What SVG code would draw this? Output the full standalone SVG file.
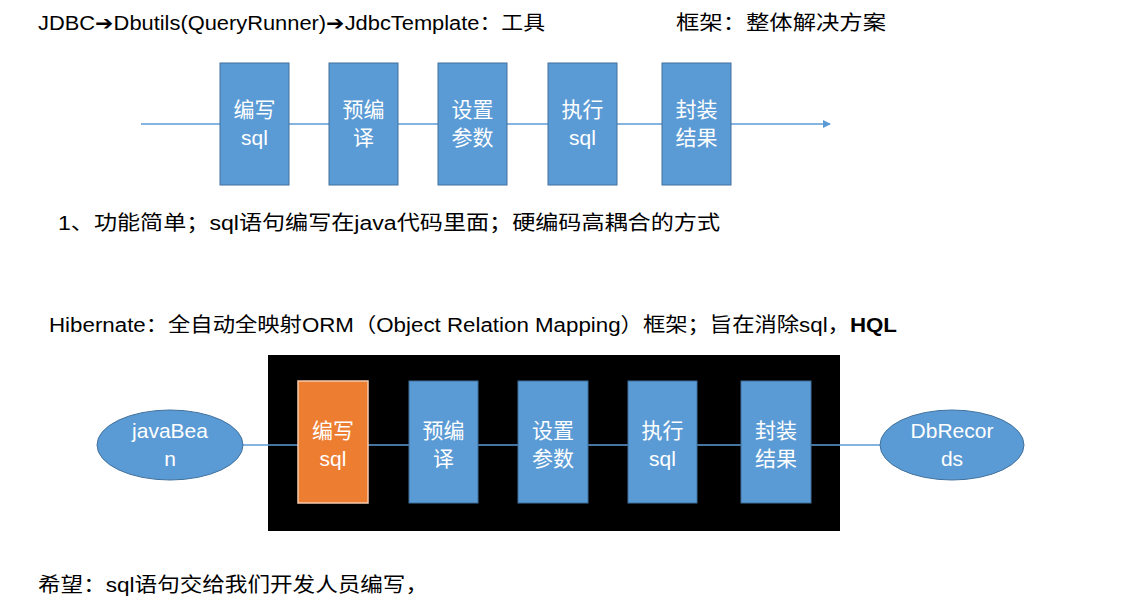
<svg xmlns="http://www.w3.org/2000/svg" width="1140" height="611" viewBox="0 0 1140 611">
<defs>
<style>
.t{font-family:"Liberation Sans","Noto Sans CJK SC",sans-serif;font-size:20px;fill:#000}
.bx{fill:#5B9BD5;stroke:#41719C;stroke-width:1}
.or{fill:#ED7D31;stroke:#F8CBAD;stroke-width:1.5}
.bt{font-family:"Liberation Sans","Noto Sans CJK SC",sans-serif;font-size:21px;fill:#fff;text-anchor:middle}
.ln{stroke:#5B9BD5;stroke-width:1.5;fill:none}
.el{fill:#5B9BD5;stroke:#41719C;stroke-width:1}
</style>
<marker id="ar" markerWidth="8" markerHeight="8" refX="7" refY="4" orient="auto" markerUnits="userSpaceOnUse">
<path d="M0,0 L8,4 L0,8 Z" fill="#5B9BD5"/>
</marker>
</defs>
<rect width="1140" height="611" fill="#fff"/>

<g id="texts">
<text class="t" x="38" y="30" textLength="507" lengthAdjust="spacingAndGlyphs">JDBC➔Dbutils(QueryRunner)➔JdbcTemplate：工具</text>
<text class="t" x="676" y="30" textLength="210" lengthAdjust="spacingAndGlyphs">框架：整体解决方案</text>
<text class="t" x="58" y="230" textLength="662" lengthAdjust="spacingAndGlyphs">1、功能简单；sql语句编写在java代码里面；硬编码高耦合的方式</text>
<text class="t" x="49" y="332" textLength="848" lengthAdjust="spacingAndGlyphs">Hibernate：全自动全映射ORM（Object Relation Mapping）框架；旨在消除sql，<tspan font-weight="bold">HQL</tspan></text>
<text class="t" x="38" y="592" textLength="390" lengthAdjust="spacingAndGlyphs">希望：sql语句交给我们开发人员编写，</text>
</g>

<g id="connectors">
<line class="ln" x1="141" y1="124" x2="830" y2="124" marker-end="url(#ar)"/>
</g>

<g id="top1"><rect class="bx" x="220" y="63" width="69" height="122"/><text class="bt" x="254.5" y="117">编写</text><text class="bt" x="254.5" y="145">sql</text></g>
<g id="top2"><rect class="bx" x="329" y="63" width="69" height="122"/><text class="bt" x="363.5" y="117">预编</text><text class="bt" x="363.5" y="145">译</text></g>
<g id="top3"><rect class="bx" x="438" y="63" width="69" height="122"/><text class="bt" x="472.5" y="117">设置</text><text class="bt" x="472.5" y="145">参数</text></g>
<g id="top4"><rect class="bx" x="548" y="63" width="69" height="122"/><text class="bt" x="582.5" y="117">执行</text><text class="bt" x="582.5" y="145">sql</text></g>
<g id="top5"><rect class="bx" x="662" y="63" width="69" height="122"/><text class="bt" x="696.5" y="117">封装</text><text class="bt" x="696.5" y="145">结果</text></g>

<g id="frame"><rect x="268" y="355" width="572" height="176" fill="#000"/></g>

<g id="connectors2">
<line class="ln" x1="243" y1="445" x2="880" y2="445"/>
</g>

<g id="javaBean"><ellipse class="el" cx="170" cy="445" rx="73" ry="35"/><text class="bt" x="170" y="438">javaBea</text><text class="bt" x="170" y="466">n</text></g>
<g id="b1"><rect class="or" x="298" y="381" width="70" height="122"/><text class="bt" x="333" y="438">编写</text><text class="bt" x="333" y="466">sql</text></g>
<g id="b2"><rect class="bx" x="409" y="381" width="69" height="122"/><text class="bt" x="443.5" y="438">预编</text><text class="bt" x="443.5" y="466">译</text></g>
<g id="b3"><rect class="bx" x="518" y="381" width="70" height="122"/><text class="bt" x="553" y="438">设置</text><text class="bt" x="553" y="466">参数</text></g>
<g id="b4"><rect class="bx" x="628" y="381" width="69" height="122"/><text class="bt" x="662.5" y="438">执行</text><text class="bt" x="662.5" y="466">sql</text></g>
<g id="b5"><rect class="bx" x="741" y="381" width="70" height="122"/><text class="bt" x="776" y="438">封装</text><text class="bt" x="776" y="466">结果</text></g>
<g id="dbRecords"><ellipse class="el" cx="952" cy="445" rx="72" ry="35"/><text class="bt" x="952" y="438">DbRecor</text><text class="bt" x="952" y="466">ds</text></g>
</svg>
